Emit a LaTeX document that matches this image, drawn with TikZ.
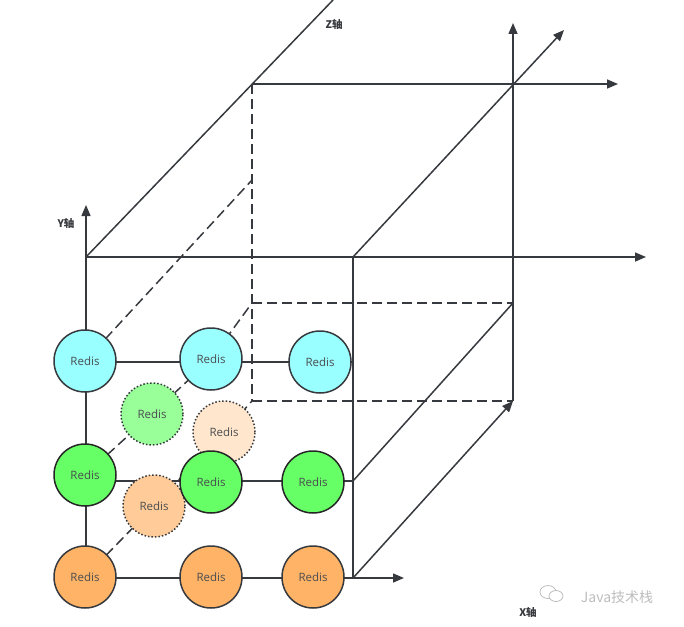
\documentclass[tikz,border=0pt]{standalone}
\usepackage{fontspec}
\setmainfont{Open Sans}
\newfontfamily\cjk{Noto Sans CJK SC}
\usetikzlibrary{arrows.meta}
\definecolor{ln}{HTML}{36393D}
\definecolor{cyanf}{HTML}{99FFFF}
\definecolor{greenf}{HTML}{66FF66}
\definecolor{orangef}{HTML}{FFB366}
\definecolor{lgreenf}{HTML}{99FF99}
\definecolor{peachf}{HTML}{FFE6CC}
\definecolor{lorangef}{HTML}{FFCC99}
\definecolor{wm}{HTML}{BDBDBD}
\tikzset{
  axis/.style={draw=ln, line width=1.5pt},
  arr/.style={axis, -{Triangle[length=11pt,width=9pt]}},
  dsh/.style={draw=ln, line width=1.5pt, dash pattern=on 10pt off 5pt},
  redis/.style={circle, minimum size=62pt, inner sep=0pt, draw=ln, line width=1.5pt,
    font=\fontsize{11.5}{13}\selectfont, text=ln!90},
  ghost/.style={redis, dash pattern=on 1.5pt off 2pt},
  lbl/.style={font=\cjk\bfseries\fontsize{10.5}{12}\selectfont, text=ln, inner sep=0pt}
}
\begin{document}
\begin{tikzpicture}[x=1pt,y=-1pt]
\useasboundingbox (0,0) rectangle (684,626);
% coordinates
\coordinate (O) at (86,257);
\coordinate (ytip) at (86,205);
\coordinate (ybot) at (86,578);
\coordinate (xtip) at (404,578);
\coordinate (ztop) at (333,0);
\coordinate (toptip) at (646,257);
\coordinate (A) at (252,84);
\coordinate (Atip) at (618,84);
\coordinate (B) at (353,257);
\coordinate (Btip) at (564,30);
\coordinate (C) at (513,401);
\coordinate (Ctip) at (513,23);
\coordinate (D) at (353,578);
\coordinate (E) at (353,481);
\coordinate (F) at (513,303);
\coordinate (G) at (252,303);
\coordinate (H) at (252,401);
\coordinate (K) at (252,180);
\coordinate (Rc) at (353,362);
\coordinate (Lc) at (86,362);
\coordinate (Lg) at (86,481);
% nodes positions (drawn later)
\path (85,361) coordinate (pcL) (211,359) coordinate (pcM) (320,362) coordinate (pcR)
      (152,414) coordinate (plg) (224,432) coordinate (ppe)
      (85,475) coordinate (pgL) (211,482) coordinate (pgM) (313,482) coordinate (pgR)
      (154,506) coordinate (plo)
      (85,577) coordinate (poL) (211,577) coordinate (poM) (313,577) coordinate (poR);
% axes and frame
\draw[arr] (ybot) -- (ytip);
\draw[arr] (O) -- (toptip);
\draw[axis] (O) -- (ztop);
\draw[arr] (A) -- (Atip);
\draw[arr] (C) -- (Ctip);
\draw[arr] (B) -- (Btip);
\draw[axis] (B) -- (D);
\draw[arr] (ybot) -- (xtip);
\draw[arr] (D) -- (C);
\draw[axis] (E) -- (F);
\draw[dsh] (A) -- (H);
\draw[dsh] (G) -- (F);
\draw[dsh] (H) -- (C);
\draw[dsh] (pcL) -- (K);
\draw[dsh] (pgL) -- (plg) -- (pcM) -- (G);
\draw[dsh] (poL) -- (plo) -- (ppe) -- (H);
\draw[axis] (Lc) -- (Rc);
\draw[axis] (Lg) -- (E);
% ghost nodes
\node[ghost, fill=lgreenf] (lg) at (plg) {Redis};
\node[ghost, fill=peachf] (pe) at (ppe) {Redis};
\node[ghost, fill=lorangef] (lo) at (plo) {Redis};
% solid nodes
\node[redis, fill=cyanf] (cL) at (pcL) {Redis};
\node[redis, fill=cyanf] (cM) at (pcM) {Redis};
\node[redis, fill=cyanf] (cR) at (pcR) {Redis};
\node[redis, fill=greenf, draw=black!85] (gL) at (pgL) {Redis};
\node[redis, fill=greenf, draw=black!85] (gM) at (pgM) {Redis};
\node[redis, fill=greenf, draw=black!85] (gR) at (pgR) {Redis};
\node[redis, fill=orangef] (oL) at (poL) {Redis};
\node[redis, fill=orangef] (oM) at (poM) {Redis};
\node[redis, fill=orangef] (oR) at (poR) {Redis};
% labels
\node[lbl] (zl) at (334,25) {Z轴};
\node[lbl] (yl) at (66,224) {Y轴};
\node[lbl] (xl) at (528,612) {X轴};
% watermark
\draw[wm, line width=0.8pt] (548,592) ellipse (8pt and 6.5pt);
\draw[wm, line width=0.8pt, fill=white] (556,596) ellipse (7pt and 5.5pt);
\node[font=\cjk\fontsize{14}{16}\selectfont, text=wm, inner sep=0pt] (wmt) at (617,597) {Java技术栈};
\end{tikzpicture}
\end{document}
